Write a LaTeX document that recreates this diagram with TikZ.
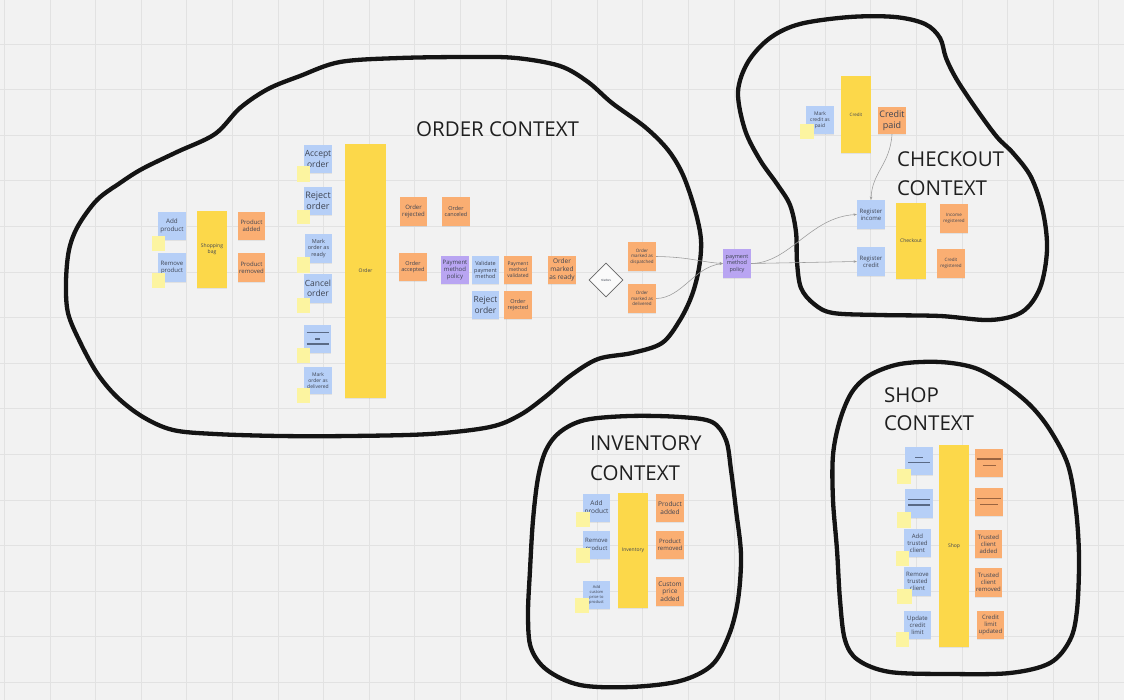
\documentclass[tikz,border=0pt]{standalone}
\usepackage{fontspec}
\setmainfont{Open Sans}
\usetikzlibrary{shapes.geometric,arrows.meta,calc,shadows}
\definecolor{bgc}{HTML}{F2F2F2}
\definecolor{gridc}{HTML}{E2E2E2}
\definecolor{nblue}{HTML}{B6CFF7}
\definecolor{norange}{HTML}{FAAE72}
\definecolor{nyellow}{HTML}{FCD84A}
\definecolor{npurple}{HTML}{B9A5F2}
\definecolor{nsmall}{HTML}{FCF4A0}
\definecolor{ntext}{HTML}{3E4452}
\definecolor{ltext}{HTML}{5A6A86}
\definecolor{otext}{HTML}{9A6440}
\definecolor{conc}{HTML}{9A9A9A}
\newcommand\notefs[1]{\fontsize{#1}{\dimexpr #1pt*12/10\relax}\selectfont}
\tikzset{
  sticky/.style={inner sep=0pt, align=center, text=ntext, minimum width=28pt, minimum height=28pt,
    drop shadow={shadow xshift=0.4pt, shadow yshift=-0.7pt, opacity=0.15}},
  bn/.style={sticky, fill=nblue},
  on/.style={sticky, fill=norange},
  yn/.style={sticky, fill=nyellow, minimum width=30pt},
  pn/.style={sticky, fill=npurple},
  ysq/.style={fill=nsmall, inner sep=0pt, minimum width=13pt, minimum height=15pt},
  blob/.style={line width=4.3pt, draw=black!92, line join=round},
  conn/.style={draw=conc, line width=0.55pt, -{Stealth[length=3.2pt,width=2.6pt]}},
  plh/.style={draw=ltext, line width=1.1pt},
  title/.style={font=\fontsize{20.5}{24}\selectfont, text=black!88, inner sep=0pt, anchor=west},
  gridl/.style={draw=gridc, line width=0.9pt}
}
\begin{document}
\begin{tikzpicture}[x=1pt,y=-1pt]
\useasboundingbox (0,0) rectangle (1124,700);
\fill[bgc] (0,0) rectangle (1124,700);
\foreach \i in {0,...,24} \draw[gridl] (4.4+45.6*\i,0) -- (4.4+45.6*\i,700);
\foreach \j in {1,...,15} \draw[gridl] (0,-1.6+45.6*\j) -- (1124,-1.6+45.6*\j);

% ---------- context outlines ----------
\draw[blob] plot[smooth cycle, tension=0.55] coordinates {
 (66,282) (69,250) (78,226) (97,200) (120,183) (142,169) (177,152) (215,134) (240,108) (268,89)
 (300,76) (340,62) (400,58) (470,57) (516,58) (560,66) (588,82) (612,103) (645,127) (668,150)
 (683,175) (695,210) (701,240) (699,268) (692,295) (680,320) (662,343) (632,353) (598,359)
 (570,376) (545,397) (520,415) (490,427) (430,434) (350,436) (280,436) (215,434) (173,430)
 (143,417) (117,397) (97,373) (80,342) (68,313)};
\draw[blob] plot[smooth cycle, tension=0.55] coordinates {
 (738,92) (748,62) (770,38) (800,24) (850,17) (895,17) (925,24) (940,38) (946,58) (957,80)
 (977,110) (997,137) (1013,153) (1031,177) (1043,212) (1047,250) (1040,288) (1022,312)
 (990,320) (940,316) (880,315) (833,313) (814,304) (801,288) (797,262) (796,232) (790,205)
 (777,184) (760,160) (745,130)};
\draw[blob] plot[smooth cycle, tension=0.55] coordinates {
 (560,432) (585,420) (630,416) (680,417) (712,422) (726,440) (731,470) (736,510) (741,555)
 (738,600) (729,635) (712,665) (680,681) (630,687) (580,685) (547,670) (531,648) (528,615)
 (530,570) (533,520) (538,478) (546,450)};
\draw[blob] plot[smooth cycle, tension=0.55] coordinates {
 (870,375) (900,364) (940,362) (975,368) (1004,384) (1030,405) (1050,430) (1068,465) (1076,510)
 (1079,558) (1077,610) (1070,640) (1050,663) (1010,673) (950,674) (890,672) (858,660) (845,640)
 (840,600) (837,550) (833,500) (833,455) (840,420) (852,392)};

% ---------- titles ----------
\node[title] (tord) at (416,129) {ORDER CONTEXT};
\node[title] (tchk1) at (897,159) {CHECKOUT};
\node[title] (tchk2) at (897,188) {CONTEXT};
\node[title] (tinv1) at (590,443) {INVENTORY};
\node[title] (tinv2) at (590,473) {CONTEXT};
\node[title] (tshp1) at (884,395) {SHOP};
\node[title] (tshp2) at (884,423) {CONTEXT};

% ---------- order context ----------
\node[bn, font=\notefs{6.3}] (addp) at (172,226) {Add\\product};
\node[bn, font=\notefs{6}, minimum height=29pt] (remp) at (172,267.5) {Remove\\product};
\node[yn, font=\notefs{5}, minimum height=77pt] (bag) at (212,249.5) {Shopping\\bag};
\node[on, font=\notefs{6}, minimum width=27pt] (padd) at (251.5,226) {Product\\added};
\node[on, font=\notefs{6}, minimum width=27pt, minimum height=29pt] (prem) at (251.5,267.5) {Product\\removed};

\node[bn, font=\notefs{8.5}] (acc) at (318,159) {Accept\\order};
\node[bn, font=\notefs{9}] (rej) at (318,201) {Reject\\order};
\node[bn, font=\notefs{5.5}, minimum width=27pt, minimum height=29pt] (ready) at (318.5,248.5) {Mark\\order as\\ready};
\node[bn, font=\notefs{8.5}, minimum height=29pt] (canc) at (318,288.5) {Cancel\\order};
\node[bn, minimum width=27pt] (eqa) at (317.5,339) {};
\node[bn, font=\notefs{5}, minimum height=27pt] (deliv) at (318,380.5) {Mark\\order as\\delivered};
\node[yn, font=\notefs{5}, minimum width=41pt, minimum height=254pt] (order) at (365.5,271) {Order};

\node[on, font=\notefs{6}, minimum width=27pt, minimum height=29pt] (orej) at (413.5,211.5) {Order\\rejected};
\node[on, font=\notefs{5.5}, minimum height=29pt] (ocan) at (456,211.5) {Order\\canceled};
\node[on, font=\notefs{5.5}] (oacc) at (413,267) {Order\\accepted};
\node[pn, font=\notefs{6}] (pmp) at (455,270) {Payment\\method\\policy};
\node[bn, font=\notefs{5.5}, minimum width=27pt] (vpm) at (485.5,270) {Validate\\payment\\method};
\node[on, font=\notefs{5}] (pmv) at (518,270) {Payment\\method\\validated};
\node[on, font=\notefs{6.5}] (omr) at (562,270) {Order\\marked\\as ready};
\node[bn, font=\notefs{8.5}, minimum width=27pt] (rej2) at (485.5,305) {Reject\\order};
\node[on, font=\notefs{5.5}] (orej2) at (518,305) {Order\\rejected};
\node[shape=diamond, draw=black!60, fill=white!60!bgc, line width=0.6pt, minimum width=34pt, minimum height=34pt,
      inner sep=0pt, font=\notefs{3.5}, text=ntext] (dia) at (606,280) {status};
\node[on, font=\notefs{4.5}, minimum height=29pt] (disp) at (642,256.5) {Order\\marked as\\dispatched};
\node[on, font=\notefs{4.5}, minimum height=29pt] (odel) at (642,298.5) {Order\\marked as\\delivered};

% small yellow stickies (order)
\node[ysq] (yaddp) at (158,244) {};
\node[ysq] (yremp) at (158.5,280.5) {};
\node[ysq, minimum height=16pt] (yacc) at (303.5,174) {};
\node[ysq, minimum height=14pt] (yrej) at (303.5,217) {};
\node[ysq, minimum height=16pt] (yready) at (303.5,265) {};
\node[ysq] (ycanc) at (303.5,305.5) {};
\node[ysq] (yeqa) at (303.5,355.5) {};
\node[ysq] (ydeliv) at (303.5,395.5) {};

% ---------- between ----------
\node[pn, font=\notefs{5.5}, minimum height=29pt] (pmp2) at (737,263.5) {payment\\method\\policy};

% ---------- checkout context ----------
\node[bn, font=\notefs{5}] (mcp) at (820,120) {Mark\\credit as\\paid};
\node[yn, font=\notefs{4.5}, minimum height=77pt] (credit) at (856,114.5) {Credit};
\node[on, font=\notefs{9}, minimum height=27pt] (cpaid) at (892,120.5) {Credit\\paid};
\node[bn, font=\notefs{6}, minimum height=29pt] (rinc) at (871,214.5) {Register\\income};
\node[bn, font=\notefs{6}, minimum height=29pt] (rcred) at (871,261.5) {Register\\credit};
\node[yn, font=\notefs{5}, minimum height=76pt] (chk) at (911,241) {Checkout};
\node[on, font=\notefs{4.5}, minimum height=29pt] (inreg) at (954,218.5) {Income\\registered};
\node[on, font=\notefs{4.5}, minimum height=29pt] (crreg) at (951,263.5) {Credit\\registered};
\node[ysq, minimum width=14pt] (ymcp) at (807,131.5) {};

% ---------- inventory context ----------
\node[bn, font=\notefs{6.5}, minimum width=27pt] (iadd) at (596.5,508) {Add\\product};
\node[bn, font=\notefs{6}, minimum width=27pt] (irem) at (596.5,545) {Remove\\product};
\node[bn, font=\notefs{4}, minimum width=27pt] (icust) at (596.5,595) {Add\\custom\\price to\\product};
\node[yn, font=\notefs{5}, minimum height=115pt] (inv) at (633,550.5) {Inventory};
\node[on, font=\notefs{6.5}] (ipadd) at (670,508) {Product\\added};
\node[on, font=\notefs{6}] (iprem) at (670,545) {Product\\removed};
\node[on, font=\notefs{6.5}, minimum height=29pt] (icpa) at (670,591.5) {Custom\\price\\added};
\node[ysq, minimum width=14pt] (yiadd) at (583,519.5) {};
\node[ysq, minimum width=14pt] (yirem) at (583,555.5) {};
\node[ysq, minimum width=14pt] (yicust) at (582,605.5) {};

% ---------- shop context ----------
\node[bn] (seqa) at (919,461) {};
\node[bn, minimum height=29pt] (seqb) at (919,503.5) {};
\node[bn, font=\notefs{6}, minimum width=27pt] (sadd) at (917.5,543) {Add\\trusted\\client};
\node[bn, font=\notefs{6}, minimum width=27pt, minimum height=29pt] (srem) at (917.5,581.5) {Remove\\trusted\\client};
\node[bn, font=\notefs{6}, minimum width=27pt] (supd) at (917.5,625) {Update\\credit\\limit};
\node[yn, font=\notefs{5}, minimum height=202pt] (shop) at (954,546) {Shop};
\node[on] (soeqa) at (989,463) {};
\node[on] (soeqb) at (989,502) {};
\node[on, font=\notefs{6}, minimum width=27pt] (stca) at (988.5,544) {Trusted\\client\\added};
\node[on, font=\notefs{6}, minimum width=27pt, minimum height=29pt] (stcr) at (988.5,582.5) {Trusted\\client\\removed};
\node[on, font=\notefs{6}, minimum width=27pt] (sclu) at (990.5,625) {Credit\\limit\\updated};
\node[ysq, minimum width=14pt] (yseqa) at (904,476.5) {};
\node[ysq, minimum width=14pt, minimum height=16pt] (yseqb) at (904,520) {};
\node[ysq] (ysadd) at (902.5,558.5) {};
\node[ysq, minimum width=15pt] (ysrem) at (904.5,596.5) {};
\node[ysq] (ysupd) at (902.5,639.5) {};

% placeholder lines on collapsed stickies
\draw[plh] ($(eqa)+(-11,-6.3)$) -- ++(22,0);
\draw[plh] ($(eqa)+(-2.5,0)$) -- ++(5,0);
\draw[plh] ($(eqa)+(-11,5)$) -- ++(22,0);
\draw[plh] ($(seqa)+(-4,-3.3)$) -- ++(8,0);
\draw[plh] ($(seqa)+(-11,1.3)$) -- ++(22,0);
\draw[plh] ($(seqb)+(-11,-4.2)$) -- ++(22,0);
\draw[plh] ($(seqb)+(-11,1.5)$) -- ++(22,0);
\draw[plh, draw=otext] ($(soeqa)+(-12,-4)$) -- ++(24,0);
\draw[plh, draw=otext] ($(soeqa)+(-6.5,2.7)$) -- ++(13,0);
\draw[plh, draw=otext] ($(soeqb)+(-12,-3.7)$) -- ++(24,0);
\draw[plh, draw=otext] ($(soeqb)+(-9,2.3)$) -- ++(18,0);

% ---------- connectors ----------
\draw[conn] (disp.east) .. controls (690,257) and (700,262) .. (pmp2.west);
\draw[conn] (odel.east) .. controls (682,298) and (694,267) .. (pmp2.west);
\draw[conn] (pmp2.east) .. controls (790,263) and (810,217) .. (rinc.west);
\draw[conn] (pmp2.east) -- (rcred.west);
\draw[conn] (cpaid.south) .. controls (890,165) and (872,172) .. (rinc.north);
\end{tikzpicture}
\end{document}
